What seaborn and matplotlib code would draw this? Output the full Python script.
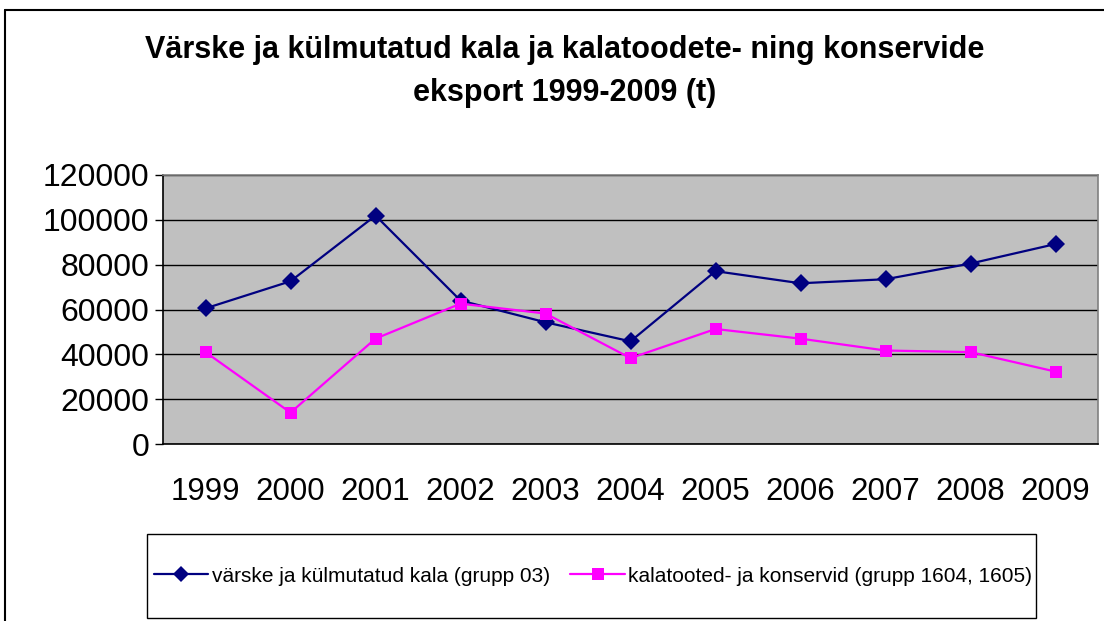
import pandas as pd
import numpy as np
import matplotlib
matplotlib.use("Agg")
import matplotlib.pyplot as plt
import seaborn as sns
from matplotlib.lines import Line2D
from matplotlib.patches import Rectangle

years = ["1999", "2000", "2001", "2002", "2003", "2004", "2005", "2006", "2007", "2008", "2009"]
fresh_fish = [60500, 72600, 101900, 64000, 54300, 45800, 77100, 71700, 73500, 80500, 89200]
fish_products = [41000, 14000, 47000, 62600, 58200, 38300, 51300, 47000, 41700, 41000, 32300]
name_fresh = "värske ja külmutatud kala (grupp 03)"
name_products = "kalatooted- ja konservid (grupp 1604, 1605)"

sns.set_style("white")
plt.rcParams['font.family'] = ['Liberation Sans', 'DejaVu Sans']
plt.rcParams['text.color'] = 'black'
plt.rcParams['xtick.color'] = 'black'
plt.rcParams['ytick.color'] = 'black'

df = pd.DataFrame({
    "x": list(range(len(years))) * 2,
    "value": fresh_fish + fish_products,
    "series": [name_fresh] * len(years) + [name_products] * len(years),
})

W, H = 1104, 621
fig = plt.figure(figsize=(11.04, 6.21), dpi=100)
ax = fig.add_axes([163 / W, 1 - 444 / H, 935 / W, (444 - 175) / H])
ax.set_facecolor("#c0c0c0")

sns.lineplot(data=df, x="x", y="value", hue="series", style="series",
             palette={name_fresh: "#000080", name_products: "#ff00ff"},
             markers={name_fresh: "D", name_products: "s"}, dashes=False,
             markersize=9, linewidth=1.6, markeredgewidth=0, ax=ax, legend=False)

ax.set_xlim(-0.5, len(years) - 0.5)
ax.set_ylim(0, 120000)
ax.set_yticks(range(0, 120001, 20000))
ax.yaxis.grid(True, color="black", linewidth=1)
ax.set_axisbelow(True)
ax.set_xticks(range(len(years)))
ax.set_xticklabels(years)
ax.set_xticks(np.arange(-0.5, len(years), 1), minor=True)
ax.tick_params(axis="x", which="major", length=0, labelsize=22.5, pad=24)
ax.tick_params(axis="x", which="minor", length=6, width=1, color="black", direction="out")
ax.tick_params(axis="y", length=6, width=1, color="black", direction="out", labelsize=23, left=True, pad=4)
ax.set_xlabel("")
ax.set_ylabel("")
for s in ["left", "bottom"]:
    ax.spines[s].set_color("black")
    ax.spines[s].set_linewidth(1.2)
for s in ["top", "right"]:
    ax.spines[s].set_color("#808080")
    ax.spines[s].set_linewidth(1.2)

fig.text(565 / W, 1 - 50 / H, "Värske ja külmutatud kala ja kalatoodete- ning konservide",
         ha="center", va="center", fontsize=22, fontweight="bold")
fig.text(565 / W, 1 - 93 / H, "eksport 1999-2009 (t)",
         ha="center", va="center", fontsize=22, fontweight="bold")

# outer chart border
fig.add_artist(Line2D([5 / W, 5 / W], [0, 1 - 10 / H], transform=fig.transFigure, color="black", linewidth=1.5))
fig.add_artist(Line2D([5 / W, 1], [1 - 10 / H, 1 - 10 / H], transform=fig.transFigure, color="black", linewidth=1.5))

# legend box
fig.add_artist(Rectangle((147 / W, 1 - 618 / H), (1036 - 147) / W, (618 - 534) / H,
                         transform=fig.transFigure, fill=False, edgecolor="black", linewidth=1))

handles = [
    Line2D([], [], color="#000080", marker="D", markersize=8, markeredgewidth=0, linewidth=1.6),
    Line2D([], [], color="#ff00ff", marker="s", markersize=8, markeredgewidth=0, linewidth=1.6),
]
fig.legend(handles, [name_fresh, name_products], loc="center",
           bbox_to_anchor=(593 / W, 1 - 576 / H), ncol=2, fontsize=15,
           frameon=False, borderpad=0,
           handlelength=2.6, handletextpad=0.15, columnspacing=1.0, borderaxespad=0)

fig.savefig("out.png", dpi=100)
